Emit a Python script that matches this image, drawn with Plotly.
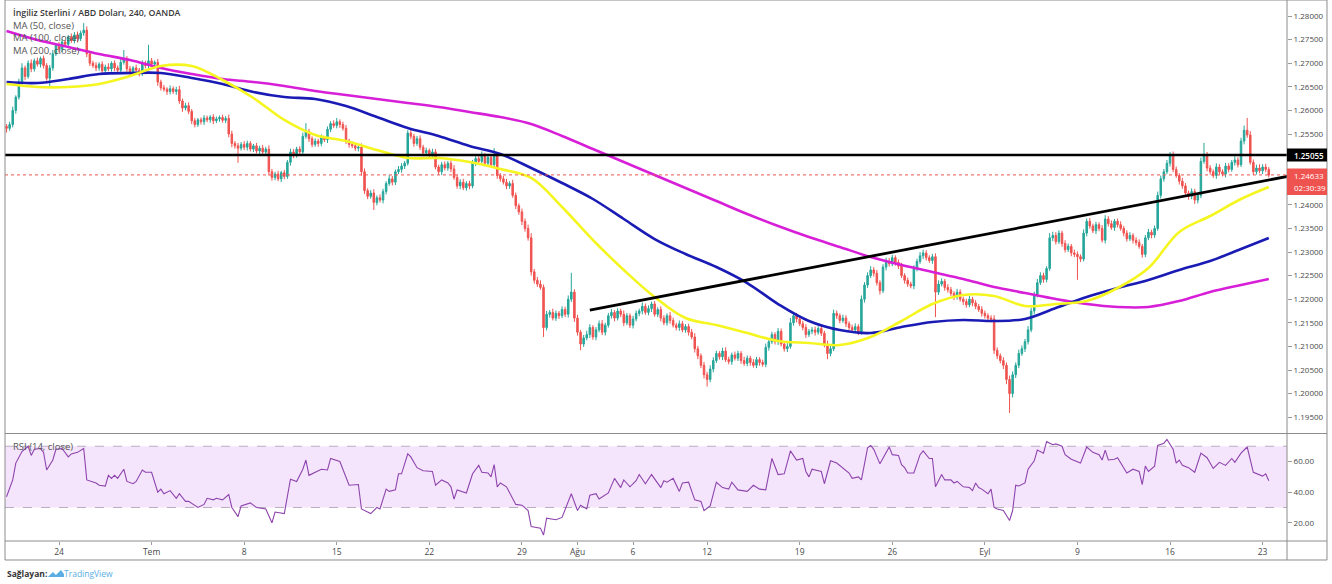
import plotly.graph_objects as go

# ---------------- DATA (GBP/USD 4H, OANDA) ----------------
open_first = 1.2566
closes = [
    1.2562, 1.2570, 1.2600, 1.2628, 1.2660, 1.2690, 1.2672, 1.2700, 1.2688, 1.2705,
    1.2698, 1.2710, 1.2695, 1.2668, 1.2690, 1.2720, 1.2738, 1.2730, 1.2745, 1.2740,
    1.2755, 1.2748, 1.2760, 1.2752, 1.2764, 1.2770, 1.2720, 1.2700, 1.2695, 1.2690,
    1.2698, 1.2684, 1.2692, 1.2688, 1.2700, 1.2690, 1.2685, 1.2702, 1.2710, 1.2688,
    1.2680, 1.2690, 1.2685, 1.2678, 1.2700, 1.2695, 1.2705, 1.2698, 1.2702, 1.2660,
    1.2648, 1.2645, 1.2640, 1.2646, 1.2640, 1.2644, 1.2620, 1.2605, 1.2610, 1.2598,
    1.2578, 1.2570, 1.2580, 1.2576, 1.2584, 1.2580, 1.2586, 1.2578, 1.2582, 1.2585,
    1.2579, 1.2583, 1.2550, 1.2530, 1.2525, 1.2520, 1.2528, 1.2522, 1.2530, 1.2518,
    1.2525, 1.2514, 1.2520, 1.2512, 1.2518, 1.2470, 1.2458, 1.2465, 1.2455, 1.2468,
    1.2460, 1.2490, 1.2512, 1.2505, 1.2518, 1.2512, 1.2545, 1.2555, 1.2540, 1.2528,
    1.2535, 1.2530, 1.2542, 1.2538, 1.2560, 1.2572, 1.2568, 1.2576, 1.2570, 1.2562,
    1.2535, 1.2528, 1.2525, 1.2520, 1.2522, 1.2470, 1.2430, 1.2418, 1.2425, 1.2405,
    1.2415, 1.2410, 1.2428, 1.2445, 1.2455, 1.2448, 1.2470, 1.2475, 1.2482, 1.2488,
    1.2552, 1.2545, 1.2530, 1.2540, 1.2522, 1.2510, 1.2515, 1.2505, 1.2512, 1.2480,
    1.2470, 1.2485, 1.2478, 1.2488, 1.2476, 1.2458, 1.2440, 1.2448, 1.2436, 1.2445,
    1.2440, 1.2488, 1.2498, 1.2492, 1.2505, 1.2488, 1.2500, 1.2485, 1.2505, 1.2462,
    1.2455, 1.2448, 1.2440, 1.2445, 1.2420, 1.2398, 1.2385, 1.2365, 1.2350, 1.2330,
    1.2258, 1.2240, 1.2232, 1.2225, 1.2140, 1.2168, 1.2172, 1.2160, 1.2170, 1.2165,
    1.2178, 1.2168, 1.2200, 1.2215, 1.2160, 1.2130, 1.2105, 1.2118, 1.2125, 1.2140,
    1.2120, 1.2135, 1.2148, 1.2130, 1.2145, 1.2165, 1.2172, 1.2160, 1.2175, 1.2168,
    1.2150, 1.2165, 1.2145, 1.2158, 1.2170, 1.2175, 1.2185, 1.2172, 1.2180, 1.2190,
    1.2168, 1.2178, 1.2160, 1.2150, 1.2165, 1.2155, 1.2145, 1.2140, 1.2148, 1.2135,
    1.2142, 1.2130, 1.2120, 1.2095, 1.2080, 1.2060, 1.2040, 1.2030, 1.2052, 1.2070,
    1.2085, 1.2078, 1.2090, 1.2072, 1.2068, 1.2082, 1.2075, 1.2085, 1.2070, 1.2064,
    1.2075, 1.2066, 1.2060, 1.2072, 1.2066, 1.2062, 1.2098, 1.2110, 1.2125, 1.2110,
    1.2132, 1.2105, 1.2095, 1.2100, 1.2150, 1.2165, 1.2158, 1.2148, 1.2140, 1.2125,
    1.2132, 1.2135, 1.2130, 1.2138, 1.2128, 1.2105, 1.2085, 1.2095, 1.2170, 1.2165,
    1.2155, 1.2160, 1.2148, 1.2140, 1.2135, 1.2142, 1.2130, 1.2200, 1.2230, 1.2250,
    1.2262, 1.2255, 1.2235, 1.2218, 1.2268, 1.2280, 1.2275, 1.2288, 1.2278, 1.2270,
    1.2250, 1.2240, 1.2232, 1.2228, 1.2265, 1.2280, 1.2292, 1.2298, 1.2288, 1.2282,
    1.2290, 1.2215, 1.2232, 1.2238, 1.2225, 1.2220, 1.2212, 1.2205, 1.2215, 1.2200,
    1.2195, 1.2188, 1.2200, 1.2192, 1.2185, 1.2178, 1.2170, 1.2165, 1.2160, 1.2158,
    1.2092, 1.2080, 1.2070, 1.2060, 1.2030, 1.2000, 1.2040, 1.2060, 1.2085, 1.2095,
    1.2110, 1.2135, 1.2175, 1.2210, 1.2235, 1.2250, 1.2242, 1.2265, 1.2330, 1.2335,
    1.2322, 1.2340, 1.2318, 1.2305, 1.2312, 1.2298, 1.2295, 1.2290, 1.2285, 1.2340,
    1.2365, 1.2355, 1.2345, 1.2358, 1.2350, 1.2325, 1.2370, 1.2360, 1.2352, 1.2365,
    1.2358, 1.2350, 1.2340, 1.2328, 1.2335, 1.2325, 1.2320, 1.2312, 1.2295, 1.2330,
    1.2342, 1.2336, 1.2350, 1.2420, 1.2455, 1.2470, 1.2488, 1.2505, 1.2475, 1.2462,
    1.2450, 1.2440, 1.2425, 1.2418, 1.2428, 1.2410, 1.2420, 1.2492, 1.2505, 1.2478,
    1.2470, 1.2462, 1.2480, 1.2470, 1.2465, 1.2482, 1.2475, 1.2490, 1.2495, 1.2485,
    1.2535, 1.2558, 1.2548, 1.2490, 1.2470, 1.2478, 1.2472, 1.2480, 1.2475, 1.2463,
]
# upper / lower wick lengths in pips (1 pip = 0.0001)
wick_up_pips = [
    5, 6, 8, 4, 7, 10, 5, 6, 8, 5,
    7, 4, 6, 5, 6, 8, 5, 7, 6, 4,
    5, 8, 6, 7, 5, 15, 8, 6, 5, 7,
    4, 6, 5, 8, 4, 6, 5, 7, 18, 5,
    6, 4, 7, 5, 6, 5, 34, 6, 4, 7,
    5, 6, 4, 7, 5, 6, 8, 5, 6, 7,
    5, 6, 4, 5, 6, 5, 4, 6, 5, 4,
    6, 5, 8, 7, 5, 6, 5, 7, 6, 5,
    4, 6, 5, 7, 5, 8, 6, 5, 7, 4,
    6, 5, 7, 6, 5, 6, 8, 18, 6, 5,
    6, 5, 7, 4, 6, 5, 7, 8, 5, 6,
    7, 5, 6, 4, 6, 8, 7, 5, 6, 8,
    5, 7, 6, 5, 8, 6, 5, 7, 6, 5,
    6, 8, 5, 6, 7, 5, 6, 4, 7, 6,
    5, 6, 7, 5, 6, 8, 5, 6, 7, 5,
    6, 7, 5, 6, 8, 5, 6, 7, 15, 6,
    5, 6, 7, 5, 8, 6, 5, 7, 6, 8,
    10, 6, 7, 8, 6, 7, 5, 8, 6, 5,
    7, 6, 8, 41, 6, 7, 5, 6, 8, 7,
    5, 6, 7, 8, 5, 6, 7, 5, 6, 5,
    8, 6, 5, 7, 6, 5, 8, 6, 7, 5,
    6, 5, 7, 6, 5, 8, 6, 5, 7, 6,
    5, 6, 7, 8, 6, 5, 7, 6, 8, 7,
    6, 5, 7, 8, 6, 5, 7, 6, 5, 8,
    6, 5, 7, 6, 5, 6, 8, 7, 6, 5,
    7, 6, 5, 8, 10, 7, 6, 5, 6, 7,
    5, 6, 7, 5, 6, 5, 7, 6, 8, 6,
    5, 7, 6, 5, 6, 7, 5, 8, 6, 7,
    8, 6, 7, 5, 6, 8, 7, 6, 5, 6,
    7, 5, 6, 5, 7, 6, 8, 7, 6, 5,
    6, 7, 8, 6, 5, 7, 6, 5, 7, 6,
    5, 6, 7, 5, 6, 5, 7, 6, 5, 6,
    8, 6, 5, 7, 6, 8, 7, 6, 8, 7,
    6, 8, 7, 6, 8, 7, 6, 5, 10, 8,
    7, 6, 5, 7, 6, 5, 7, 6, 5, 8,
    6, 7, 5, 6, 5, 7, 8, 6, 7, 5,
    6, 7, 5, 6, 7, 5, 6, 7, 5, 6,
    7, 5, 6, 8, 7, 6, 7, 7, 8, 6,
    5, 7, 6, 5, 7, 6, 5, 8, 26, 7,
    6, 5, 8, 6, 5, 7, 6, 5, 8, 6,
    7, 10, 26, 8, 6, 7, 8, 6, 7, 5,
]
wick_dn_pips = [
    9, 5, 6, 7, 5, 6, 8, 5, 7, 6,
    5, 7, 6, 5, 20, 6, 5, 7, 6, 5,
    7, 5, 6, 8, 5, 6, 7, 6, 5, 7,
    6, 5, 7, 5, 6, 7, 5, 6, 5, 7,
    6, 5, 7, 6, 5, 6, 7, 5, 6, 8,
    6, 5, 7, 6, 5, 7, 6, 8, 5, 6,
    7, 6, 5, 6, 7, 5, 6, 7, 5, 6,
    5, 6, 7, 8, 6, 31, 5, 6, 7, 5,
    6, 5, 7, 6, 5, 8, 7, 6, 5, 7,
    6, 5, 7, 6, 5, 7, 6, 5, 7, 6,
    5, 7, 6, 5, 7, 6, 5, 6, 7, 5,
    6, 7, 5, 6, 7, 8, 7, 6, 5, 16,
    6, 5, 7, 6, 5, 7, 6, 5, 7, 6,
    5, 6, 7, 5, 6, 7, 5, 6, 7, 5,
    6, 7, 5, 6, 7, 5, 6, 7, 5, 6,
    7, 5, 6, 7, 5, 6, 7, 5, 6, 7,
    6, 5, 7, 6, 5, 7, 6, 8, 7, 6,
    8, 7, 6, 5, 20, 6, 7, 5, 6, 7,
    5, 6, 7, 6, 8, 7, 13, 6, 5, 7,
    6, 7, 5, 6, 7, 5, 6, 7, 5, 6,
    7, 5, 6, 7, 5, 6, 7, 5, 6, 7,
    5, 6, 7, 5, 6, 7, 5, 6, 7, 5,
    6, 7, 5, 8, 7, 6, 8, 15, 6, 7,
    5, 6, 7, 5, 6, 7, 5, 6, 7, 5,
    6, 7, 5, 6, 7, 5, 6, 7, 5, 6,
    7, 5, 6, 7, 5, 6, 7, 5, 6, 7,
    5, 6, 7, 5, 6, 7, 12, 6, 5, 7,
    6, 5, 7, 6, 5, 7, 6, 5, 7, 6,
    5, 7, 6, 8, 5, 7, 6, 5, 7, 6,
    5, 7, 6, 5, 7, 6, 5, 7, 6, 5,
    7, 53, 6, 5, 7, 6, 5, 7, 6, 5,
    7, 6, 5, 7, 6, 5, 7, 6, 5, 7,
    8, 7, 6, 8, 10, 41, 8, 7, 6, 5,
    7, 6, 5, 7, 6, 5, 7, 6, 5, 7,
    6, 5, 7, 6, 5, 7, 6, 49, 6, 5,
    7, 6, 5, 7, 6, 5, 7, 6, 5, 7,
    6, 5, 7, 6, 5, 7, 6, 5, 7, 6,
    5, 7, 6, 5, 7, 6, 5, 7, 6, 5,
    7, 6, 5, 7, 6, 8, 7, 6, 5, 7,
    6, 5, 7, 6, 5, 7, 6, 5, 7, 6,
    5, 7, 6, 5, 7, 6, 5, 7, 6, 5,
]

# moving averages read every 10 bars (+ last bar)
ma_bars = list(range(0, 401, 10)) + [409]
ma50 = [1.26559, 1.26496, 1.26496, 1.26559, 1.26729, 1.26941, 1.26941, 1.26644, 1.26263, 1.25797,
        1.25479, 1.25352, 1.25161, 1.24992, 1.24992, 1.24907, 1.24759, 1.24568, 1.23953, 1.23254,
        1.22619, 1.22047, 1.21602, 1.21453, 1.21284, 1.21114, 1.21072, 1.21030, 1.21199, 1.21538,
        1.21898, 1.22089, 1.22068, 1.21856, 1.21898, 1.21962, 1.22237, 1.22661, 1.23424, 1.23763,
        1.24123, 1.24377]
ma100 = [1.26602, 1.26581, 1.26665, 1.26771, 1.26792, 1.26792, 1.26686, 1.26559, 1.26390, 1.26284,
         1.26242, 1.26093, 1.25860, 1.25627, 1.25458, 1.25246, 1.25076, 1.24780, 1.24462, 1.24123,
         1.23699, 1.23275, 1.22958, 1.22682, 1.22343, 1.21898, 1.21538, 1.21347, 1.21284, 1.21411,
         1.21517, 1.21560, 1.21538, 1.21581, 1.21814, 1.22047, 1.22237, 1.22407, 1.22619, 1.22809,
         1.23064, 1.23297]
ma200 = [1.27682, 1.27492, 1.27343, 1.27195, 1.27068, 1.26898, 1.26771, 1.26665, 1.26602, 1.26517,
         1.26411, 1.26326, 1.26242, 1.26157, 1.26072, 1.25966, 1.25860, 1.25712, 1.25458, 1.25182,
         1.24907, 1.24631, 1.24356, 1.24081, 1.23805, 1.23551, 1.23318, 1.23106, 1.22894, 1.22725,
         1.22576, 1.22428, 1.22258, 1.22131, 1.22004, 1.21898, 1.21835, 1.21835, 1.21962, 1.22153,
         1.22301, 1.22428]

# RSI(14) readings: (bar, value)
rsi_readings = [
    (0, 37), (2, 48), (3, 59), (5, 66.5), (7, 70), (8, 64), (9, 68), (11, 68.5), (12, 66), (13, 54.5),
    (15, 61), (16, 68), (18, 68.5), (20, 63), (21, 65), (23, 66), (25, 68.5), (26, 48), (29, 46), (30, 44.5),
    (32, 44), (33, 51), (34, 49), (35, 51), (36, 49), (38, 55), (39, 47), (41, 45.5), (42, 47), (44, 54.5),
    (45, 53), (47, 53), (49, 40), (50, 42), (51, 39), (53, 41), (55, 36), (56, 39), (58, 34), (59, 34),
    (62, 30), (64, 32), (65, 36), (67, 35), (68, 36), (70, 35), (72, 38.5), (73, 30), (75, 24), (76, 31),
    (79, 33), (81, 30), (84, 29), (86, 20), (87, 27), (90, 26), (92, 48.5), (94, 47), (96, 55), (97, 61),
    (98, 51), (102, 55), (104, 54.5), (105, 62), (108, 60), (111, 44.5), (114, 45), (115, 29), (118, 26), (120, 30),
    (121, 29), (123, 42), (124, 40.5), (126, 41.5), (127, 52), (128, 52), (130, 65), (131, 63), (133, 56), (135, 54),
    (138, 53.5), (139, 44.5), (141, 48), (143, 46), (144, 43.5), (145, 35.5), (146, 41.5), (148, 40), (149, 39.5), (151, 52),
    (153, 57.5), (154, 53), (156, 52.5), (157, 50), (158, 58), (159, 43.5), (160, 46), (162, 43.5), (165, 32), (167, 31.5),
    (169, 28), (170, 17.5), (173, 16.5), (174, 12), (175, 23), (178, 22), (180, 23.5), (183, 39), (185, 28), (186, 31.5),
    (188, 29), (189, 38), (191, 39), (192, 35.5), (195, 39.5), (197, 49), (199, 43), (200, 48), (202, 43.5), (204, 47.5),
    (205, 51.5), (207, 45.5), (209, 51.5), (212, 43), (213, 47.5), (214, 46.5), (216, 49), (218, 40.5), (219, 46), (221, 46.5),
    (223, 35), (225, 34), (226, 28), (228, 31), (230, 46.5), (232, 43), (234, 42), (235, 46.5), (237, 41.5), (240, 40.5),
    (242, 44.5), (244, 42), (246, 41.5), (248, 62), (250, 51.5), (252, 52), (254, 67), (256, 61), (258, 62), (259, 53.5),
    (260, 50), (261, 55), (264, 53.5), (265, 45.5), (267, 60.5), (269, 59), (273, 52.5), (274, 49), (276, 50), (277, 48),
    (279, 69), (280, 70.5), (281, 68), (283, 58.5), (285, 65.5), (286, 69.5), (287, 64.5), (289, 64), (290, 58), (291, 56),
    (292, 52.5), (294, 52.5), (296, 64.5), (297, 67), (299, 62), (300, 62), (301, 43.5), (303, 51.5), (304, 48), (306, 48),
    (307, 46), (308, 47), (310, 43.5), (312, 43), (313, 41), (314, 46), (315, 43), (316, 42), (318, 39), (319, 42),
    (320, 30), (321, 29), (323, 28), (324, 25), (325, 21.5), (326, 28), (327, 44.5), (328, 44), (330, 46), (331, 55),
    (333, 60.5), (334, 67.5), (336, 65.5), (337, 73), (339, 71), (340, 71.5), (342, 70), (343, 64.5), (345, 61.5), (348, 59),
    (350, 69.5), (352, 66), (354, 64.5), (355, 61), (356, 67.5), (357, 61), (359, 61.5), (360, 62.5), (363, 52.5), (365, 55),
    (367, 53.5), (368, 45), (369, 57), (370, 53.5), (372, 57), (373, 70.5), (375, 72), (376, 74.5), (378, 68), (379, 59),
    (380, 61), (381, 57.5), (383, 56), (385, 53), (387, 65.5), (389, 62.5), (391, 55.5), (393, 59.5), (395, 57.5), (397, 62),
    (398, 59.5), (400, 65.5), (402, 69.5), (404, 53), (405, 52), (407, 50.5), (408, 52), (409, 47.5),
]

tick_bars = [17, 47, 77, 107, 137, 167, 185, 203, 227, 257, 287, 317, 347, 377, 407]
tick_labels = ["24", "Tem", "8", "15", "22", "29", "Ağu", "6", "12", "19", "26", "Eyl", "9", "16", "23"]
price_ticks = [1.28, 1.275, 1.27, 1.265, 1.26, 1.255, 1.24, 1.235, 1.23, 1.225,
               1.22, 1.215, 1.21, 1.205, 1.20, 1.195]
rsi_ticks = [20, 40, 60]

resistance = 1.25055
last_price = 1.24633
countdown = "02:30:39"
trend_bars = [189, 415]
trend_prices = [1.2177, 1.2460]

assert len(closes) == len(wick_up_pips) == len(wick_dn_pips) == 410
assert len(ma50) == len(ma100) == len(ma200) == len(ma_bars)

# ---------------- BUILD ----------------
bars = list(range(len(closes)))
opens = [open_first] + closes[:-1]
highs = [round(max(o, c) + u / 10000, 5) for o, c, u in zip(opens, closes, wick_up_pips)]
lows = [round(min(o, c) - d / 10000, 5) for o, c, d in zip(opens, closes, wick_dn_pips)]
rsi_x = [b for b, _ in rsi_readings]
rsi_y = [v for _, v in rsi_readings]

FONT = "Open Sans"
UP, DN = "#26a69a", "#ef5350"
AX_TXT = "#4a4a4a"
FRAME = "#8c8c8c"

fig = go.Figure()
fig.add_trace(go.Candlestick(
    x=bars, open=opens, high=highs, low=lows, close=closes,
    increasing=dict(line=dict(color=UP, width=1), fillcolor=UP),
    decreasing=dict(line=dict(color=DN, width=1), fillcolor=DN),
    whiskerwidth=0, xaxis="x", yaxis="y", showlegend=False))
for vals, col in [(ma200, "#d81fd8"), (ma100, "#1a1ab4"), (ma50, "#f5f51f")]:
    fig.add_trace(go.Scatter(x=ma_bars, y=vals, mode="lines", xaxis="x", yaxis="y",
                             line=dict(color=col, width=2.6, shape="spline", smoothing=1.0),
                             showlegend=False, hoverinfo="skip"))
fig.add_trace(go.Scatter(x=rsi_x, y=rsi_y, mode="lines", xaxis="x2", yaxis="y2",
                         line=dict(color="#8e44ad", width=1.1), showlegend=False))

XR = [-0.5, 414.9]
fig.update_layout(
    width=1332, height=584, margin=dict(l=5, r=45, t=0, b=43),
    paper_bgcolor="white", plot_bgcolor="white",
    font=dict(family=FONT, color=AX_TXT, size=8),
    showlegend=False,
    xaxis=dict(domain=[0, 1], range=XR, anchor="y", showticklabels=False, showgrid=False,
               zeroline=False, showline=False, rangeslider=dict(visible=False), ticks=""),
    xaxis2=dict(domain=[0, 1], range=XR, anchor="y2", showgrid=False, zeroline=False, showline=False,
                tickmode="array", tickvals=tick_bars, ticktext=tick_labels, ticks="outside",
                ticklen=3, tickcolor="#9a9a9a", tickfont=dict(size=8.5, color=AX_TXT)),
    yaxis=dict(domain=[0.1996, 1], range=[1.19165, 1.28339], side="right", anchor="x",
               showgrid=False, zeroline=False, showline=False, tickmode="array",
               tickvals=price_ticks, ticktext=[f"{v:.5f}" for v in price_ticks],
               ticks="outside", ticklen=4, tickcolor="#9a9a9a", tickfont=dict(size=8, color=AX_TXT)),
    yaxis2=dict(domain=[0, 0.1978], range=[8.1, 78], side="right", anchor="x2",
                showgrid=False, zeroline=False, showline=False, tickmode="array",
                tickvals=rsi_ticks, ticktext=[f"{v:.2f}" for v in rsi_ticks],
                ticks="outside", ticklen=4, tickcolor="#9a9a9a", tickfont=dict(size=8, color=AX_TXT)),
)

shapes = []
# RSI band and levels
shapes.append(dict(type="rect", xref="paper", x0=0, x1=1, yref="y2", y0=30, y1=70,
                   fillcolor="#f4e5fc", line=dict(width=0), layer="below"))
for lvl in (30, 70):
    shapes.append(dict(type="line", xref="paper", x0=0, x1=1, yref="y2", y0=lvl, y1=lvl,
                       line=dict(color="#b9aec0", width=1, dash="dash"), layer="below"))
# resistance, trend line, last price line
shapes.append(dict(type="line", xref="paper", x0=0, x1=1, yref="y", y0=resistance, y1=resistance,
                   line=dict(color="#000000", width=2.4), layer="above"))
shapes.append(dict(type="line", xref="x", x0=trend_bars[0], x1=trend_bars[1], yref="y",
                   y0=trend_prices[0], y1=trend_prices[1],
                   line=dict(color="#000000", width=2.8), layer="above"))
shapes.append(dict(type="line", xref="paper", x0=0, x1=1, yref="y", y0=last_price, y1=last_price,
                   line=dict(color="#ef5350", width=1, dash="dot"), layer="above"))
# frame
RB = 1.0312
BOT = -0.0351
SEP = 0.1987
for s in [
    dict(x0=0, x1=0, y0=BOT, y1=1), dict(x0=RB, x1=RB, y0=BOT, y1=1),
    dict(x0=0, x1=RB, y0=1, y1=1), dict(x0=0, x1=RB, y0=BOT, y1=BOT),
    dict(x0=1, x1=1, y0=BOT, y1=1), dict(x0=0, x1=RB, y0=0, y1=0),
    dict(x0=0, x1=RB, y0=SEP, y1=SEP),
]:
    shapes.append(dict(type="line", xref="paper", yref="paper", line=dict(color=FRAME, width=1), **s))
# price labels on axis
shapes.append(dict(type="rect", xref="paper", x0=1.0, x1=RB, yref="y", ysizemode="pixel",
                   yanchor=resistance, y0=-6.5, y1=6.5, fillcolor="#000000", line=dict(width=0)))
shapes.append(dict(type="rect", xref="paper", x0=1.0, x1=RB, yref="y", ysizemode="pixel",
                   yanchor=last_price, y0=-20, y1=6.5, fillcolor="#ef5350", line=dict(width=0)))
# tradingview logo (small mark)
shapes.append(dict(type="path", xref="paper", yref="paper", xsizemode="pixel", ysizemode="pixel",
                   xanchor=0.0335, yanchor=-0.0665,
                   path="M0,0 L5,5 L8,2 L13,7 L16,3 L16,0 Z",
                   fillcolor="#5aaee3", line=dict(width=0)))
fig.update_layout(shapes=shapes)

ann = []
def txt(text, x, y, xref="paper", yref="paper", size=9, color="#555555", xanchor="left",
        yanchor="middle", xshift=0, yshift=0, weight="normal"):
    ann.append(dict(text=text, x=x, y=y, xref=xref, yref=yref, showarrow=False, xanchor=xanchor,
                    yanchor=yanchor, xshift=xshift, yshift=yshift,
                    font=dict(family=FONT, size=size, color=color, weight=weight)))

txt("İngiliz Sterlini / ABD Doları, 240, OANDA", 0, 1, yshift=-13, xshift=6, size=8.8,
    color="#3a3a3a", weight=600)
txt("MA (50, close)", 0, 1, yshift=-25, xshift=6, size=9.5)
txt("MA (100, close)", 0, 1, yshift=-37.5, xshift=6, size=9.5)
txt("MA (200, close)", 0, 1, yshift=-50, xshift=6, size=9.5)
txt("RSI (14, close)", 0, 0.1756, xshift=6, size=9.5)
txt(f"{resistance:.5f}", 1.0, resistance, yref="y", size=8, color="#ffffff", xshift=5, weight=600)
txt(f"{last_price:.5f}", 1.0, last_price, yref="y", size=8, color="#ffffff", xshift=5, yshift=-1)
txt(countdown, 1.0, last_price, yref="y", size=8, color="#ffffff", xshift=5, yshift=-13)
txt("Sağlayan:", 0, -0.0592, size=8.5, color="#333333", weight=700, xshift=0)
txt("TradingView", 0.0335, -0.0592, size=8.5, color="#5aaee3", xshift=14)
fig.update_layout(annotations=ann)

fig.write_html("out.html", config={"displayModeBar": False},
               post_script="document.body.style.margin='0';document.body.style.overflow='hidden';")
